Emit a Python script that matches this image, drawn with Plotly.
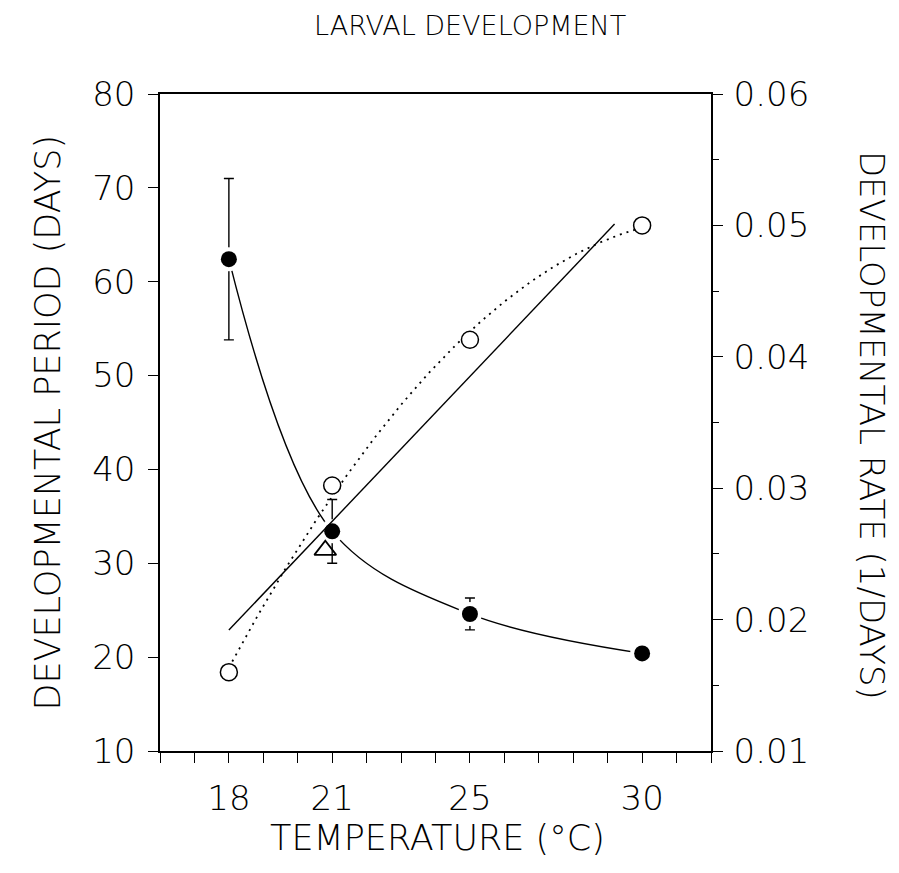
import numpy as np
import plotly.graph_objects as go

# Larval development vs. rearing temperature
TEMPS = [18, 21, 25, 30]                     # rearing temperature (°C)
PERIOD = [62.4, 33.4, 24.6, 20.4]            # developmental period (days)
PERIOD_SD = [8.6, 3.4, 1.7, 0.0]             # error bars (days)
RATE = [0.0160, 0.0302, 0.0413, 0.0500]      # developmental rate (1/days)
TRIANGLE_T = [20.8]                          # extra observation at 21 °C
TRIANGLE_PERIOD = [31.4]
LINEAR_FIT_SPAN = (18.0, 29.2)               # extent of the linear rate regression
XTICK_LABELS = [18, 21, 25, 30]

FONT = dict(family="DejaVu Sans ExtraLight, DejaVu Sans, sans-serif", color="black", weight=200)
INK = "black"

# Regression curves for the rate data
lin = np.polyfit(TEMPS, RATE, 1)
quad = np.polyfit(TEMPS, RATE, 2)
t_lin = np.linspace(*LINEAR_FIT_SPAN, 50)
t_quad = np.linspace(TEMPS[0], TEMPS[-1], 200)

fig = go.Figure()

# linear regression of rate (solid straight line)
fig.add_trace(go.Scatter(
    x=t_lin, y=np.polyval(lin, t_lin), yaxis="y2", mode="lines",
    line=dict(color=INK, width=1.4), hoverinfo="skip", showlegend=False))

# quadratic fit of rate (dotted curve)
fig.add_trace(go.Scatter(
    x=t_quad, y=np.polyval(quad, t_quad), yaxis="y2", mode="lines",
    line=dict(color=INK, width=1.8, dash="2px,5px"), hoverinfo="skip", showlegend=False))

# developmental period: smooth curve with error bars
fig.add_trace(go.Scatter(
    x=TEMPS, y=PERIOD, mode="lines",
    line=dict(color=INK, width=1.4, shape="spline", smoothing=1.0),
    error_y=dict(type="data", array=PERIOD_SD, visible=True, color=INK,
                 thickness=1.4, width=5),
    hoverinfo="skip", showlegend=False))

# white halo so the curve stops short of each filled marker
fig.add_trace(go.Scatter(
    x=TEMPS, y=PERIOD, mode="markers",
    marker=dict(symbol="circle", size=24, color="white", line=dict(width=0)),
    hoverinfo="skip", showlegend=False))

# filled markers: developmental period
fig.add_trace(go.Scatter(
    x=TEMPS, y=PERIOD, mode="markers",
    marker=dict(symbol="circle", size=16, color=INK, line=dict(width=0)),
    showlegend=False))

# open markers: developmental rate
fig.add_trace(go.Scatter(
    x=TEMPS, y=RATE, yaxis="y2", mode="markers",
    marker=dict(symbol="circle", size=17, color="white", line=dict(color=INK, width=1.5)),
    showlegend=False))

# open triangle
fig.add_trace(go.Scatter(
    x=TRIANGLE_T, y=TRIANGLE_PERIOD, mode="markers",
    marker=dict(symbol="triangle-up-open", size=19, color=INK, line=dict(color=INK, width=1.8)),
    showlegend=False))

xticks = list(range(16, 33))
xtext = [str(t) if t in XTICK_LABELS else "" for t in xticks]

fig.update_layout(
    width=899, height=873,
    margin=dict(l=160, r=188, t=94, b=122),
    paper_bgcolor="white", plot_bgcolor="white",
    font=FONT,
    xaxis=dict(range=[16, 32], tickmode="array", tickvals=xticks, ticktext=xtext,
               ticks="outside", ticklen=10, tickwidth=1.2, tickcolor=INK,
               showline=True, linecolor=INK, linewidth=1.6, mirror=True,
               showgrid=False, zeroline=False, tickfont=dict(size=34),
               ticklabelstandoff=6),
    yaxis=dict(range=[10, 80], dtick=10, tick0=10,
               ticks="outside", ticklen=10, tickwidth=1.2, tickcolor=INK,
               showline=True, linecolor=INK, linewidth=1.6,
               showgrid=False, zeroline=False, tickfont=dict(size=34),
               ticklabelstandoff=6),
    yaxis2=dict(range=[0.01, 0.06], dtick=0.01, tick0=0.01, tickformat=".2f",
                overlaying="y", side="right", anchor="x",
                ticks="outside", ticklen=10, tickwidth=1.2, tickcolor=INK,
                minor=dict(dtick=0.005, tick0=0.01, ticks="outside", ticklen=6,
                           tickwidth=1.2, tickcolor=INK),
                showline=True, linecolor=INK, linewidth=1.6,
                showgrid=False, zeroline=False, tickfont=dict(size=34),
                ticklabelstandoff=4),
    annotations=[
        dict(text="LARVAL DEVELOPMENT", xref="paper", yref="paper",
             x=0.5626, y=1.105, showarrow=False, font=dict(size=27),
             xanchor="center", yanchor="middle"),
        dict(text="TEMPERATURE (°C)", xref="paper", yref="paper",
             x=0.503, y=-0.1324, showarrow=False, font=dict(size=35),
             xanchor="center", yanchor="middle"),
        dict(text="DEVELOPMENTAL PERIOD (DAYS)", xref="paper", yref="paper",
             x=-0.205, y=0.5, showarrow=False, font=dict(size=35), textangle=-90,
             xanchor="center", yanchor="middle"),
        dict(text="DEVELOPMENTAL RATE (1/DAYS)", xref="paper", yref="paper",
             x=1.292, y=0.495, showarrow=False, font=dict(size=34), textangle=90,
             xanchor="center", yanchor="middle"),
    ],
)

fig.write_html("out.html")
